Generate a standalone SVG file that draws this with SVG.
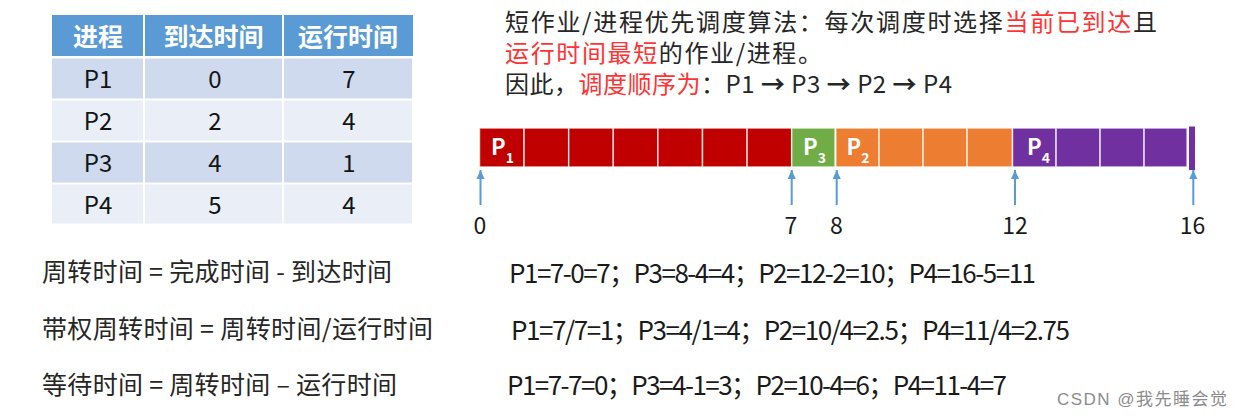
<svg xmlns="http://www.w3.org/2000/svg" width="1243" height="418" viewBox="0 0 1243 418">
<style>
text { font-family: "Noto Sans CJK SC", "Noto Sans", sans-serif; }
.hdr { font-size: 25px; font-weight: bold; fill: #ffffff; text-anchor: middle; }
.cell { font-size: 24px; fill: #141414; text-anchor: middle; }
.body { font-size: 25px; fill: #262626; }
.top { font-size: 24px; fill: #262626; }
.calc { font-size: 26px; fill: #1a1a1a; }
.red { fill: #FF3333; }
.bold { font-weight: bold; }
.hdrbg { fill: #5B9BD5; }
.rowA { fill: #CFDAEE; }
.rowB { fill: #E9EEF7; }
.seg { stroke: #ffffff; stroke-opacity: 0.75; stroke-width: 1.5; }
.p1 { fill: #C00000; }
.p3 { fill: #70AD47; }
.p2 { fill: #ED7D31; }
.p4 { fill: #7030A0; }
.lbl { font-size: 22px; font-weight: bold; fill: #ffffff; }
.tick { font-size: 23px; fill: #1a1a1a; text-anchor: middle; }
.arr { stroke: #5B9BD5; stroke-width: 2; fill: none; marker-end: url(#head); }
.wm { font-family: "Liberation Sans", "Noto Sans CJK SC", sans-serif; font-size: 17px; fill: #8c8c8c; }
</style>
<defs>
<marker id="head" viewBox="0 0 10 10" refX="10" refY="5" markerWidth="10" markerHeight="9" markerUnits="userSpaceOnUse" orient="auto">
<path d="M0,0.5 L10,5 L0,9.5 z" fill="#5B9BD5"/>
</marker>
</defs>
<rect width="1243" height="418" fill="#ffffff"/>

<g id="table">
<rect class="hdrbg" x="52" y="15" width="91" height="41"/>
<rect class="hdrbg" x="145" y="15" width="137" height="41"/>
<rect class="hdrbg" x="284" y="15" width="129" height="41"/>
<rect class="rowA" x="52" y="58.5" width="91" height="40"/>
<rect class="rowA" x="145" y="58.5" width="137" height="40"/>
<rect class="rowA" x="284" y="58.5" width="128" height="40"/>
<rect class="rowB" x="52" y="100.5" width="91" height="40"/>
<rect class="rowB" x="145" y="100.5" width="137" height="40"/>
<rect class="rowB" x="284" y="100.5" width="128" height="40"/>
<rect class="rowA" x="52" y="142.5" width="91" height="40"/>
<rect class="rowA" x="145" y="142.5" width="137" height="40"/>
<rect class="rowA" x="284" y="142.5" width="128" height="40"/>
<rect class="rowB" x="52" y="184.5" width="91" height="39"/>
<rect class="rowB" x="145" y="184.5" width="137" height="39"/>
<rect class="rowB" x="284" y="184.5" width="128" height="39"/>
<text class="hdr" x="98" y="46">进程</text>
<text class="hdr" x="213.5" y="46">到达时间</text>
<text class="hdr" x="348" y="46">运行时间</text>
<text class="cell" x="98" y="87.5">P1</text>
<text class="cell" x="215" y="87.5">0</text>
<text class="cell" x="349" y="87.5">7</text>
<text class="cell" x="98" y="129.5">P2</text>
<text class="cell" x="215" y="129.5">2</text>
<text class="cell" x="349" y="129.5">4</text>
<text class="cell" x="98" y="171.5">P3</text>
<text class="cell" x="215" y="171.5">4</text>
<text class="cell" x="349" y="171.5">1</text>
<text class="cell" x="98" y="213.5">P4</text>
<text class="cell" x="215" y="213.5">5</text>
<text class="cell" x="349" y="213.5">4</text>
</g>

<g id="description">
<text class="top" x="505" y="31" textLength="652" lengthAdjust="spacing">短作业/进程优先调度算法：每次调度时选择<tspan class="red">当前已到达</tspan>且</text>
<text class="top" x="505" y="62" textLength="317" lengthAdjust="spacing"><tspan class="red">运行时间最短</tspan>的作业/进程。</text>
<text class="top" x="505" y="93" textLength="447" lengthAdjust="spacing">因此，<tspan class="red">调度顺序为</tspan>：P1 <tspan class="bold">→</tspan> P3 <tspan class="bold">→</tspan> P2 <tspan class="bold">→</tspan> P4</text>
</g>

<g id="gantt">
<rect class="seg p1" x="479.5" y="128" width="44.6" height="39"/>
<rect class="seg p1" x="524.1" y="128" width="44.6" height="39"/>
<rect class="seg p1" x="568.7" y="128" width="44.6" height="39"/>
<rect class="seg p1" x="613.3" y="128" width="44.6" height="39"/>
<rect class="seg p1" x="657.9" y="128" width="44.6" height="39"/>
<rect class="seg p1" x="702.5" y="128" width="44.6" height="39"/>
<rect class="seg p1" x="747.1" y="128" width="44.6" height="39"/>
<rect class="seg p3" x="791.7" y="128" width="43.3" height="39"/>
<rect class="seg p2" x="835.8" y="128" width="43.3" height="39"/>
<rect class="seg p2" x="879.1" y="128" width="44" height="39"/>
<rect class="seg p2" x="923.1" y="128" width="44" height="39"/>
<rect class="seg p2" x="967.1" y="128" width="45.4" height="39"/>
<rect class="seg p4" x="1012.5" y="128" width="43.6" height="39"/>
<rect class="seg p4" x="1056.1" y="128" width="44" height="39"/>
<rect class="seg p4" x="1100.1" y="128" width="44" height="39"/>
<rect class="seg p4" x="1144.1" y="128" width="43" height="39"/>
<rect class="p4" x="1189" y="126.5" width="6" height="43.5"/>
<text class="lbl" x="491" y="155">P<tspan font-size="14" dy="8">1</tspan></text>
<text class="lbl" x="803" y="155">P<tspan font-size="14" dy="8">3</tspan></text>
<text class="lbl" x="846.5" y="155">P<tspan font-size="14" dy="8">2</tspan></text>
<text class="lbl" x="1027" y="155">P<tspan font-size="14" dy="8">4</tspan></text>
<text class="tick" x="480" y="234">0</text>
<text class="tick" x="791" y="234">7</text>
<text class="tick" x="836.5" y="234">8</text>
<text class="tick" x="1015" y="234">12</text>
<text class="tick" x="1192.5" y="234">16</text>
</g>

<g id="connectors">
<line class="arr" x1="480.5" y1="205" x2="480.5" y2="170"/>
<line class="arr" x1="791.7" y1="205" x2="791.7" y2="170"/>
<line class="arr" x1="836.7" y1="205" x2="836.7" y2="170"/>
<line class="arr" x1="1015" y1="205" x2="1015" y2="170"/>
<line class="arr" x1="1193.3" y1="205" x2="1193.3" y2="170"/>
</g>

<g id="formulas">
<text class="body" x="42" y="281" textLength="350" lengthAdjust="spacing">周转时间 = 完成时间 - 到达时间</text>
<text class="body" x="42" y="338" textLength="391" lengthAdjust="spacing">带权周转时间 = 周转时间/运行时间</text>
<text class="body" x="42" y="394" textLength="355" lengthAdjust="spacing">等待时间 = 周转时间 – 运行时间</text>
</g>

<g id="results">
<text class="calc" x="509" y="283" textLength="527" lengthAdjust="spacing">P1=7-0=7；P3=8-4=4；P2=12-2=10；P4=16-5=11</text>
<text class="calc" x="511" y="340" textLength="559" lengthAdjust="spacing">P1=7/7=1；P3=4/1=4；P2=10/4=2.5；P4=11/4=2.75</text>
<text class="calc" x="507" y="395" textLength="500" lengthAdjust="spacing">P1=7-7=0；P3=4-1=3；P2=10-4=6；P4=11-4=7</text>
</g>

<text class="wm" x="1057" y="405" textLength="170" lengthAdjust="spacing">CSDN @我先睡会觉</text>
</svg>
